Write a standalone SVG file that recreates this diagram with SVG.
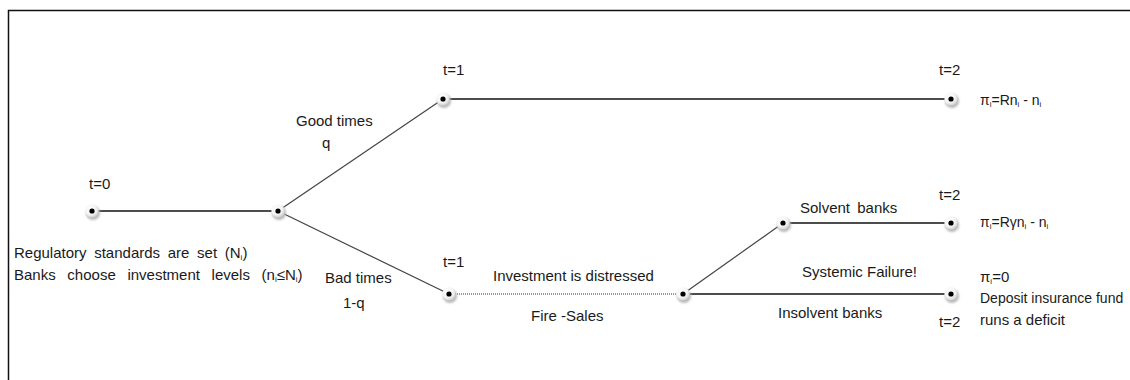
<svg xmlns="http://www.w3.org/2000/svg" width="1130" height="380" viewBox="0 0 1130 380">
  <defs>
    <radialGradient id="bead" cx="0.4" cy="0.35" r="0.7">
      <stop offset="0" stop-color="#ffffff"/>
      <stop offset="0.6" stop-color="#f4f4f4"/>
      <stop offset="1" stop-color="#c8c8c8"/>
    </radialGradient>
    <filter id="soft" x="-50%" y="-50%" width="200%" height="200%">
      <feGaussianBlur stdDeviation="0.8"/>
    </filter>
    <g id="node">
      <circle cx="1" cy="2" r="7" fill="#b8b8b8" filter="url(#soft)"/>
      <circle cx="0" cy="0" r="6.6" fill="url(#bead)"/>
      <circle cx="0" cy="0" r="2.6" fill="#000"/>
    </g>
  </defs>
  <style>
    text { font-family: "Liberation Sans", Arial, sans-serif; font-size: 15px; fill: #1a1a1a; }
    .pi { font-size: 14px; }
    .sub { font-size: 8px; }
    .edge { stroke: #111; stroke-width: 1.3; fill: none; }
    .diag { stroke: #444; stroke-width: 1.2; fill: none; }
    .dotted { stroke: #777; stroke-width: 1.5; stroke-dasharray: 1 1; fill: none; }
  </style>
  <rect width="1130" height="380" fill="#fff"/>
  <path d="M8.5 380 V10.5 H1130" stroke="#111" stroke-width="1.5" fill="none"/>

  <g id="connectors">
    <line class="edge" x1="92" y1="211" x2="278" y2="211"/>
    <line class="diag" x1="278" y1="211" x2="443" y2="99"/>
    <line class="diag" x1="278" y1="211" x2="449" y2="294"/>
    <line class="edge" x1="443" y1="99" x2="951" y2="99"/>
    <line class="dotted" x1="449" y1="294" x2="683" y2="294"/>
    <line class="diag" x1="683" y1="294" x2="783" y2="223"/>
    <line class="edge" x1="683" y1="294" x2="951" y2="294"/>
    <line class="edge" x1="783" y1="223" x2="951" y2="223"/>
  </g>

  <g id="n0"><use href="#node" x="92" y="211"/></g>
  <g id="n1"><use href="#node" x="278" y="211"/></g>
  <g id="n2"><use href="#node" x="443" y="99"/></g>
  <g id="n3"><use href="#node" x="951" y="99"/></g>
  <g id="n4"><use href="#node" x="449" y="294"/></g>
  <g id="n5"><use href="#node" x="683" y="294"/></g>
  <g id="n6"><use href="#node" x="783" y="223"/></g>
  <g id="n7"><use href="#node" x="951" y="223"/></g>
  <g id="n8"><use href="#node" x="951" y="294"/></g>

  <g id="labels">
    <text x="89" y="189">t=0</text>
    <text x="14" y="258" word-spacing="3.5">Regulatory standards are set (N<tspan class="sub" dy="2">i</tspan><tspan dy="-2">)</tspan></text>
    <text x="14" y="280" word-spacing="7.5">Banks choose investment levels (n<tspan class="sub" dy="2">i</tspan><tspan dy="-2">≤N</tspan><tspan class="sub" dy="2">i</tspan><tspan dy="-2">)</tspan></text>
    <text x="296" y="126">Good times</text>
    <text x="322" y="148">q</text>
    <text x="325" y="283">Bad times</text>
    <text x="343" y="308">1-q</text>
    <text x="443" y="75">t=1</text>
    <text x="443" y="267">t=1</text>
    <text x="493" y="281">Investment is distressed</text>
    <text x="531" y="321">Fire -Sales</text>
    <text x="939" y="75">t=2</text>
    <text x="939" y="200">t=2</text>
    <text x="939" y="327">t=2</text>
    <text x="800" y="213" word-spacing="3">Solvent banks</text>
    <text x="802" y="277">Systemic Failure!</text>
    <text x="778" y="318">Insolvent banks</text>
    <text class="pi" x="980" y="105">π<tspan class="sub" dy="2">i</tspan><tspan dy="-2">=Rn</tspan><tspan class="sub" dy="2">i</tspan><tspan dy="-2"> - n</tspan><tspan class="sub" dy="2">i</tspan></text>
    <text class="pi" x="980" y="227">π<tspan class="sub" dy="2">i</tspan><tspan dy="-2">=Rγn</tspan><tspan class="sub" dy="2">i</tspan><tspan dy="-2"> - n</tspan><tspan class="sub" dy="2">i</tspan></text>
    <text x="980" y="282">π<tspan class="sub" dy="2">i</tspan><tspan dy="-2">=0</tspan></text>
    <text x="980" y="303" style="font-size:14px">Deposit insurance fund</text>
    <text x="980" y="325">runs a deficit</text>
  </g>
</svg>
